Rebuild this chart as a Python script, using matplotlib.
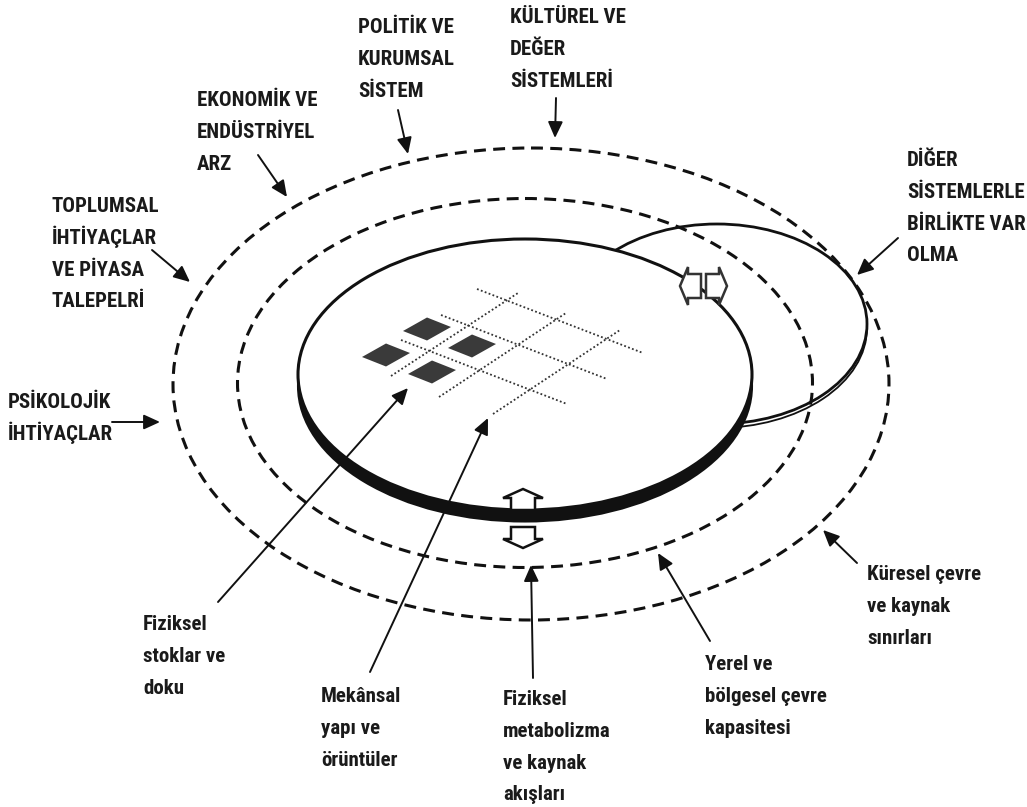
import matplotlib.pyplot as plt
from matplotlib.patches import Ellipse, Polygon

# label texts (lines), anchor of first baseline, arrow start -> arrow tip
labels = [
    ["POLİTİK VE", "KURUMSAL", "SİSTEM"],
    ["KÜLTÜREL VE", "DEĞER", "SİSTEMLERİ"],
    ["EKONOMİK VE", "ENDÜSTRİYEL", "ARZ"],
    ["TOPLUMSAL", "İHTİYAÇLAR", "VE PİYASA", "TALEPELRİ"],
    ["PSİKOLOJİK", "İHTİYAÇLAR"],
    ["DİĞER", "SİSTEMLERLE", "BİRLİKTE VAR", "OLMA"],
    ["Küresel çevre", "ve kaynak", "sınırları"],
    ["Yerel ve", "bölgesel çevre", "kapasitesi"],
    ["Fiziksel", "metabolizma", "ve kaynak", "akışları"],
    ["Mekânsal", "yapı ve", "örüntüler"],
    ["Fiziksel", "stoklar ve", "doku"],
]
label_pos = [(358, 33), (510, 23), (197, 106), (52, 212), (8, 408), (907, 166),
             (867, 580), (705, 670), (503, 705), (321, 702), (143, 630)]
arrow_from = [(398, 110), (556, 98), (258, 155), (152, 250), (112, 422), (898, 238),
              (857, 563), (710, 641), (533, 678), (370, 672), (218, 602)]
arrow_to = [(408, 154), (555, 138), (287, 197), (190, 282), (160, 422), (857, 275),
            (823, 530), (658, 553), (531, 565), (488, 418), (408, 388)]

# dashed boundaries: centre, width, height
rings = [((531, 384), 716, 472), ((525, 383), 575, 369)]

# dotted street grid
grid_lines = [
    ((477, 289), (643, 353)), ((441, 315), (607, 379)), ((401, 340), (567, 404)),
    ((391, 376), (518, 293)), ((439, 397), (566, 313)), ((493, 414), (620, 330)),
]
# building blocks (left corner)
blocks = [(403, 331), (448, 348), (362, 357), (408, 374)]

FONT = ['Roboto Condensed', 'Roboto', 'DejaVu Sans']

fig = plt.figure(figsize=(10.27, 8.07), dpi=100)
ax = fig.add_axes([0, 0, 1, 1])
ax.set_xlim(0, 1027)
ax.set_ylim(807, 0)
ax.axis('off')

# neighbouring system disc (behind)
ax.add_patch(Ellipse((717, 328), 300, 200, facecolor='white', edgecolor='#111',
                     lw=1.3, zorder=0.5))
ax.add_patch(Ellipse((717, 324), 300, 200, facecolor='white', edgecolor='#111',
                     lw=2.0, zorder=0.6))

for c, w, h in rings:
    ax.add_patch(Ellipse(c, w, h, fill=False, edgecolor='#111', lw=2.2,
                         linestyle=(0, (3.9, 2.4)), zorder=1))

# main disc with rim
ax.add_patch(Ellipse((525, 386), 454, 271, facecolor='#111', edgecolor='#111',
                     lw=1.5, zorder=2))
ax.add_patch(Ellipse((525, 374.5), 454, 271, facecolor='white', edgecolor='#111',
                     lw=2.2, zorder=3))

for (x0, y0), (x1, y1) in grid_lines:
    ax.plot([x0, x1], [y0, y1], color='#333', lw=1.3, linestyle=(0, (1, 1.3)),
            zorder=4)

u = (24, -13.5)
v = (24, 9.5)
for x, y in blocks:
    pts = [(x, y), (x + u[0], y + u[1]), (x + u[0] + v[0], y + u[1] + v[1]),
           (x + v[0], y + v[1])]
    ax.add_patch(Polygon(pts, closed=True, facecolor='#3a3a3a', edgecolor='none',
                         zorder=4))

# block arrows: exchange with other systems and with the environment
left_arrow = [(680, 286), (688, 267), (688, 274), (701, 274), (701, 298),
              (688, 298), (688, 305)]
right_arrow = [(2 * 703.5 - x, y) for x, y in left_arrow]
up_arrow = [(523, 489), (543, 498), (535, 498), (535, 510), (511, 510),
            (511, 498), (503, 498)]
down_arrow = [(523, 548), (543, 539), (535, 539), (535, 527), (511, 527),
              (511, 539), (503, 539)]
for pts, col in [(left_arrow, '#333'), (right_arrow, '#333'),
                 (up_arrow, '#111'), (down_arrow, '#111')]:
    ax.add_patch(Polygon(pts, closed=True, facecolor='white', edgecolor=col,
                         lw=1.8, joinstyle='miter', zorder=6))

for lines, (tx, ty), p0, p1 in zip(labels, label_pos, arrow_from, arrow_to):
    for i, line in enumerate(lines):
        ax.text(tx, ty + i * 31.8, line, family=FONT, fontweight='bold',
                fontsize=15, color='#1a1a1a', ha='left', va='baseline')
    ax.annotate('', xy=p1, xytext=p0,
                arrowprops=dict(arrowstyle='-|>,head_length=0.7,head_width=0.32',
                                mutation_scale=14, lw=1.4, color='#111',
                                shrinkA=0, shrinkB=0), zorder=5)

fig.savefig('out.png', dpi=100, facecolor='white')
